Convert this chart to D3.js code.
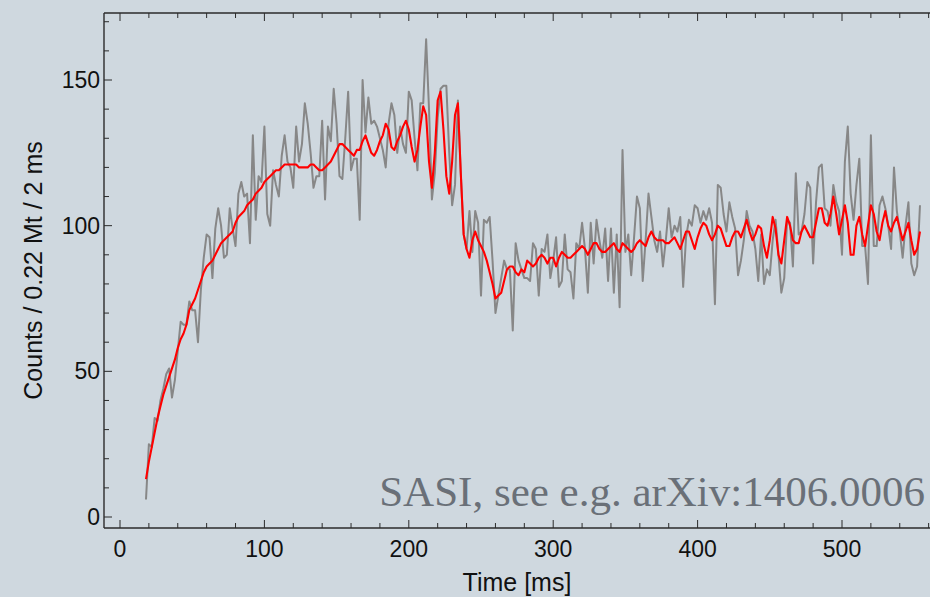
<!DOCTYPE html>
<html><head><meta charset="utf-8">
<script src="https://cdn.jsdelivr.net/npm/d3@7"></script>
<style>html,body{margin:0;padding:0;background:#cfd8df;} svg{display:block}</style>
</head><body>
<svg id="chart" width="930" height="597"></svg>
<script>
// ---- data (2 ms bins, first bin at 18 ms) ----
const binStart = 18;
const binWidth = 2;
const rawCounts = [
  6,25,24,34,33,40,44,49,51,41,47,57,67,66,66,74,71,71,60,78,
  89,97,96,82,99,106,100,89,90,106,99,93,111,115,110,111,94,131,102,117,
  115,134,104,100,119,114,110,124,131,122,120,113,134,122,128,142,135,125,113,117,
  117,136,109,134,129,147,135,117,116,130,146,119,123,123,102,150,132,144,135,136,
  134,130,126,120,135,142,138,125,134,128,125,146,143,130,119,142,142,164,140,109,
  118,137,147,148,148,125,107,114,143,118,97,92,105,91,105,101,76,102,101,103,
  88,70,76,82,88,85,85,64,94,88,85,82,82,81,94,92,76,92,91,97,
  82,88,96,79,81,97,85,84,75,94,92,101,92,77,101,87,102,95,89,99,
  81,99,77,97,72,126,91,97,83,96,110,106,81,95,111,103,95,91,98,86,
  95,106,96,100,98,103,79,96,102,100,107,106,101,105,102,106,101,73,114,113,
  104,98,108,103,99,83,88,95,105,100,98,92,81,97,80,85,83,95,102,90,
  77,82,102,101,86,118,97,98,104,115,113,87,108,120,121,106,105,100,114,108,
  105,90,122,134,111,102,114,123,93,93,80,131,93,93,107,110,106,100,92,120,
  105,98,89,100,108,87,83,86,107
];
const smoothCounts = [
  13,19,24,29,34,38,42,45,48,51,54,58,61,63,66,71,73,75,78,81,
  84,86,87,88,90,92,94,95,96,97,98,101,103,104,105,107,108,109,111,112,
  113,115,116,117,118,119,119,120,121,121,121,121,121,120,120,120,120,121,121,120,
  119,119,120,121,122,124,126,128,128,127,126,125,124,126,126,129,131,128,125,124,
  126,129,131,135,133,127,126,129,131,134,136,133,127,122,126,134,141,138,122,113,
  125,143,146,133,117,111,122,138,142,118,97,92,89,95,98,95,93,91,88,84,
  80,75,76,77,81,85,86,86,84,83,85,84,88,87,86,87,89,90,89,87,
  89,89,86,89,91,90,89,89,90,91,92,93,92,90,92,94,94,92,91,91,
  92,93,94,92,91,94,93,92,91,92,94,95,94,93,96,98,96,95,95,95,
  94,94,95,96,94,92,95,98,98,95,92,96,99,101,100,97,95,97,100,99,
  96,93,93,96,98,98,96,99,102,98,95,97,100,99,93,89,95,103,99,90,
  87,95,103,100,95,94,94,98,100,98,96,96,101,106,106,101,100,104,110,104,
  97,102,107,101,90,90,100,103,97,93,100,107,104,98,95,101,105,100,98,101,
  103,99,95,98,101,95,90,92,98
];
const xTicks = [0, 100, 200, 300, 400, 500];
const yTicks = [0, 50, 100, 150];
const xMinorStep = 20;
const yMinorStep = 10;
const xLabel = "Time [ms]";
const yLabel = "Counts / 0.22 Mt / 2 ms";
const note = "SASI, see e.g. arXiv:1406.0006";

// ---- layout ----
const W = 930, H = 597;
const plot = {left: 104, right: 940, top: 13, bottom: 528};
const x = d3.scaleLinear().domain([0, 500]).range([120, 842]);
const y = d3.scaleLinear().domain([0, 150]).range([517, 80]);
const xMax = x.invert(plot.right);
const yMax = y.invert(plot.top);

const svg = d3.select("#chart");
svg.append("rect").attr("width", W).attr("height", H).attr("fill", "#cfd8df");

svg.append("defs").append("clipPath").attr("id", "clip")
  .append("rect").attr("x", plot.left).attr("y", plot.top)
  .attr("width", plot.right - plot.left).attr("height", plot.bottom - plot.top);

const raw = rawCounts.map((v, i) => ({t: binStart + i * binWidth, v}));
const smooth = smoothCounts.map((v, i) => ({t: binStart + i * binWidth, v}));
const line = d3.line().x(d => x(d.t)).y(d => y(d.v));

const g = svg.append("g").attr("clip-path", "url(#clip)");
g.append("path").datum(raw).attr("d", line)
  .attr("fill", "none").attr("stroke", "#878787").attr("stroke-width", 2)
  .attr("stroke-linejoin", "round");
g.append("path").datum(smooth).attr("d", line)
  .attr("fill", "none").attr("stroke", "#ff0000").attr("stroke-width", 2.1)
  .attr("stroke-linejoin", "round");

// annotation
svg.append("text").attr("x", 925).attr("y", 506).attr("text-anchor", "end")
  .attr("font-family", "'Liberation Serif','Times New Roman',serif")
  .attr("font-size", 43).attr("fill", "#6a7078").text(note);

// frame
const axisColor = "#2b2b2b";
const fr = svg.append("g").attr("stroke", axisColor).attr("stroke-width", 1.4).attr("fill", "none");
fr.append("line").attr("x1", plot.left).attr("x2", plot.right).attr("y1", plot.bottom).attr("y2", plot.bottom);
fr.append("line").attr("x1", plot.left).attr("x2", plot.right).attr("y1", plot.top).attr("y2", plot.top);
fr.append("line").attr("x1", plot.left).attr("x2", plot.left).attr("y1", plot.top).attr("y2", plot.bottom);

// ticks
const xMinor = d3.range(0, xMax, xMinorStep).filter(v => !xTicks.includes(v));
const yMinor = d3.range(0, yMax, yMinorStep).filter(v => !yTicks.includes(v));
const tk = svg.append("g").attr("stroke", axisColor).attr("stroke-width", 1);
xTicks.concat(xMinor).forEach(v => {
  const len = xTicks.includes(v) ? 8 : 5;
  tk.append("line").attr("x1", x(v)).attr("x2", x(v)).attr("y1", plot.bottom).attr("y2", plot.bottom - len);
  tk.append("line").attr("x1", x(v)).attr("x2", x(v)).attr("y1", plot.top).attr("y2", plot.top + len);
});
yTicks.concat(yMinor).forEach(v => {
  const len = yTicks.includes(v) ? 8 : 5;
  tk.append("line").attr("y1", y(v)).attr("y2", y(v)).attr("x1", plot.left).attr("x2", plot.left + len);
});

const font = "'Liberation Sans', Arial, sans-serif";
svg.append("g").selectAll("text").data(xTicks).join("text")
  .attr("x", d => x(d)).attr("y", 557).attr("text-anchor", "middle")
  .attr("font-family", font).attr("font-size", 23).attr("fill", "#111").text(d => d);
svg.append("g").selectAll("text").data(yTicks).join("text")
  .attr("x", 100).attr("y", d => y(d) + 8).attr("text-anchor", "end")
  .attr("font-family", font).attr("font-size", 23).attr("fill", "#111").text(d => d);

svg.append("text").attr("x", (plot.left + 930) / 2).attr("y", 591).attr("text-anchor", "middle")
  .attr("font-family", font).attr("font-size", 25).attr("fill", "#111").text(xLabel);
svg.append("text").attr("transform", `translate(42,${(plot.top + plot.bottom) / 2}) rotate(-90)`)
  .attr("text-anchor", "middle")
  .attr("font-family", font).attr("font-size", 25).attr("fill", "#111").text(yLabel);
</script>
</body></html>
